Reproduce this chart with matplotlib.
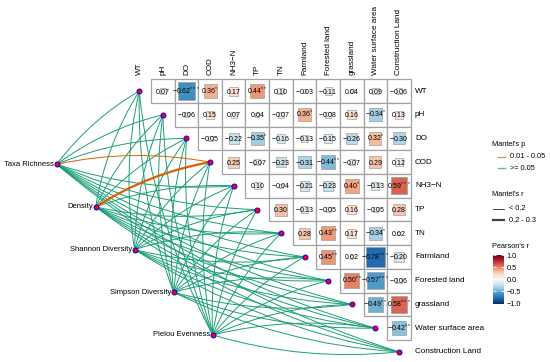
import numpy as np
import matplotlib
matplotlib.use('Agg')
import matplotlib.pyplot as plt
from matplotlib.patches import Rectangle, PathPatch
from matplotlib.path import Path
from matplotlib.lines import Line2D
import matplotlib.colors as mcolors
import matplotlib.cm as cm

plt.rcParams['font.family'] = ['Liberation Sans', 'DejaVu Sans']
plt.rcParams['mathtext.fontset'] = 'custom'
plt.rcParams['mathtext.rm'] = 'Liberation Sans'
plt.rcParams['mathtext.default'] = 'regular'

# environment variables (rows / columns of the correlation matrix)
env_vars = ['WT', 'pH', 'DO', 'COD', 'NH3\u2212N', 'TP', 'TN', 'Farmland',
            'Forested land', 'grassland', 'Water surface area', 'Construction Land']

# upper triangle of Pearson's r, row i holds columns i+1 .. end
pearson_r = [
    [0.07, -0.62, 0.36, 0.17, 0.44, 0.10, -0.03, -0.11, 0.04, 0.09, -0.06],
    [-0.06, 0.15, 0.07, 0.04, -0.07, 0.36, -0.08, 0.16, -0.34, 0.13],
    [-0.05, -0.22, -0.35, -0.16, -0.13, -0.15, -0.26, 0.32, -0.30],
    [0.25, -0.07, -0.23, -0.31, -0.44, -0.07, 0.29, 0.12],
    [0.10, -0.04, -0.21, -0.23, 0.40, -0.13, 0.59],
    [0.30, -0.13, -0.05, 0.16, -0.05, 0.28],
    [0.28, 0.43, 0.17, -0.34, 0.02],
    [0.45, 0.02, -0.78, -0.20],
    [0.50, -0.57, -0.06],
    [-0.49, 0.58],
    [-0.42],
]
pearson_sig = [
    ['', '***', '*', '', '**', '', '', '', '', '', ''],
    ['', '', '', '', '', '*', '', '', '*', ''],
    ['', '', '*', '', '', '', '', '*', ''],
    ['', '', '', '', '**', '', '', ''],
    ['', '', '', '', '*', '', '***'],
    ['', '', '', '', '', ''],
    ['', '**', '', '*', ''],
    ['**', '', '***', ''],
    ['**', '***', ''],
    ['**', '***'],
    ['**'],
]

# community indices linked by Mantel tests
species = ['Taxa Richness', 'Density', 'Shannon Diversity', 'Simpson Diversity', 'Pielou Evenness']

G, O = '>= 0.05', '0.01 - 0.05'
S, M = '< 0.2', '0.2 - 0.3'
mantel_p = [
    [G, G, G, O, G, G, G, G, G, G, G, G],
    [G, G, G, O, G, G, G, G, G, G, G, G],
    [G, G, G, G, G, G, G, G, G, G, G, G],
    [G, G, G, G, G, G, G, G, G, G, G, G],
    [G, G, G, G, G, G, G, G, G, G, G, G],
]
mantel_r = [
    [S, S, S, S, S, S, S, S, S, S, S, S],
    [S, S, S, M, S, S, S, S, S, S, S, S],
    [S, S, S, S, S, S, S, S, S, S, S, S],
    [S, S, S, S, S, S, S, S, S, S, S, S],
    [S, S, S, S, S, S, S, S, S, S, S, S],
]

p_colors = {O: '#D95F02', G: '#1B9E77'}
r_widths = {S: 0.7, M: 1.6}

cmap = plt.get_cmap('RdBu_r')
norm = mcolors.Normalize(-1, 1)

W, H = 550, 362
fig = plt.figure(figsize=(W / 100, H / 100), dpi=100)
ax = fig.add_axes([0, 0, 1, 1])
ax.set_xlim(-5.90, 17.40)
ax.set_ylim(11.43, -3.84)
ax.axis('off')

n = len(env_vars)

# correlation cells
for i, row in enumerate(pearson_r):
    for k, r in enumerate(row):
        j = i + 1 + k
        ax.add_patch(Rectangle((j - 0.5, i - 0.5), 1, 1, fc='white', ec='#a3a3a3', lw=0.9, zorder=1))
        s = np.sqrt(abs(r)) * 0.92
        ax.add_patch(Rectangle((j - s / 2, i - s / 2), s, s, fc=cmap(norm(r)),
                               ec='#a0a0a0', lw=0.5, zorder=2))
        num = f'{r:.2f}'.replace('-', '\u2212')
        stars = pearson_sig[i][k]
        label = f'${num}^{{{stars}}}$' if stars else f'${num}$'
        ax.text(j, i, label, ha='center', va='center', fontsize=5.0, zorder=3)

# labels
for j, name in enumerate(env_vars):
    ax.text(j, -0.68, name, rotation=90, ha='center', va='bottom', fontsize=5.9)
    ax.text(n - 0.5 + 0.18, j, name, ha='left', va='center', fontsize=5.9)

# species node layout
sx0, sy0, dx, dy = -3.5, 3.09, 1.653, 1.80
sp_pos = [(sx0 + dx * k, sy0 + dy * k) for k in range(len(species))]

# mantel links, significant ones drawn last
links = []
for a in range(len(species)):
    for j in range(n):
        links.append((mantel_p[a][j] == O, a, j))
links.sort(key=lambda t: t[0])
for _, a, j in links:
    x0, y0 = sp_pos[a]
    x1, y1 = j, j
    ddx, ddy = x1 - x0, y1 - y0
    sgn = 1 if ddy < 0 else -1
    cx = (x0 + x1) / 2 + sgn * 0.1 * ddy
    cy = (y0 + y1) / 2 - sgn * 0.1 * ddx
    path = Path([(x0, y0), (cx, cy), (x1, y1)], [Path.MOVETO, Path.CURVE3, Path.CURVE3])
    ax.add_patch(PathPatch(path, fc='none', ec=p_colors[mantel_p[a][j]],
                           lw=r_widths[mantel_r[a][j]], zorder=4, capstyle='round'))

# nodes
ax.plot(range(n), range(n), 'o', ms=3.6, mfc='red', mec='blue', mew=0.7, zorder=5, ls='none')
ax.plot([p[0] for p in sp_pos], [p[1] for p in sp_pos], 'o', ms=3.6, mfc='red', mec='blue',
        mew=0.7, zorder=5, ls='none')
for name, (x, y) in zip(species, sp_pos):
    ax.text(x - 0.12, y, name, ha='right', va='center', fontsize=5.5)


# legends (figure pixel coordinates)
def fp(x, y):
    return x / W, 1 - y / H


lfs = 5.3
fig.text(*fp(491.7, 144), "Mantel's p", fontsize=lfs, va='center')
for yy, key in [(156.7, O), (168.3, G)]:
    fig.add_artist(Line2D([497.7 / W, 505 / W], [1 - yy / H] * 2, color=p_colors[key], lw=1.0, alpha=0.7))
    fig.text(*fp(510, yy), key, fontsize=lfs, va='center')
fig.text(*fp(491.7, 195), "Mantel's r", fontsize=lfs, va='center')
for yy, key in [(209, S), (220, M)]:
    fig.add_artist(Line2D([493.3 / W, 504 / W], [1 - yy / H] * 2, color='#444444', lw=r_widths[key]))
    fig.text(*fp(509.3, yy), key, fontsize=lfs, va='center')
fig.text(*fp(491.7, 247), "Pearson's r", fontsize=lfs, va='center')

cax = fig.add_axes([492.5 / W, 1 - 303.5 / H, 11.5 / W, 48.5 / H])
cb = fig.colorbar(cm.ScalarMappable(norm=norm, cmap=cmap), cax=cax, ticks=[-1, -0.5, 0, 0.5, 1])
cb.ax.set_yticklabels(['\u22121.0', '\u22120.5', '0.0', '0.5', '1.0'])
cb.outline.set_visible(False)
cb.ax.tick_params(labelsize=lfs, direction='in', color='white', length=2.5, width=0.6, pad=2,
                  left=True)

fig.savefig('out.png', dpi=100)
